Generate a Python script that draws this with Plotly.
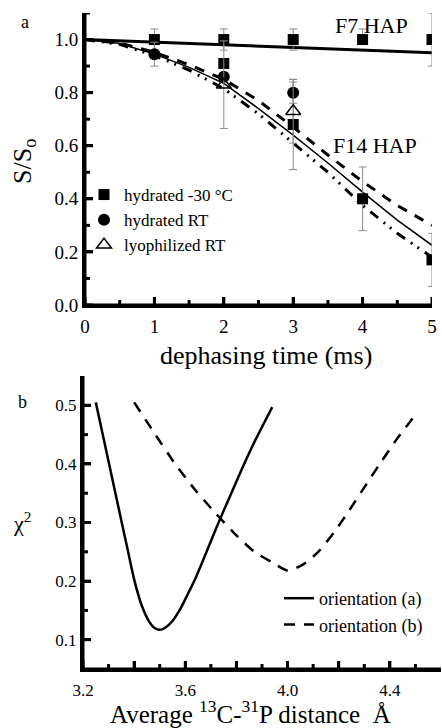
import plotly.graph_objects as go

# ---------------- Panel a data ----------------
time_ms = [1, 2, 3, 4, 5]
f7_vals = [1.0, 1.0, 1.0, 1.0, 1.0]
f7_err_plus = [0.04, 0.04, 0.04, 0.04, 0.10]
f7_err_minus = [0.04, 0.04, 0.04, 0.01, 0.10]

f14_time = [2, 3, 4, 5]
f14_vals = [0.91, 0.68, 0.40, 0.17]
f14_err = [0.0, 0.17, 0.12, 0.10]

rt_time = [1, 2, 3]
rt_vals = [0.945, 0.86, 0.80]
rt_err = [0.045, 0.0, 0.04]

lyo_time = [2, 3]
lyo_vals = [0.83, 0.73]
lyo_err = [0.165, 0.12]

fit_time = [0, 0.5, 1, 1.5, 2, 2.5, 3, 3.5, 4, 4.5, 5]
fit_solid = [1.0, 0.985, 0.945, 0.895, 0.835, 0.74, 0.64, 0.535, 0.425, 0.32, 0.225]
fit_dash = [1.0, 0.987, 0.952, 0.905, 0.85, 0.77, 0.67, 0.565, 0.465, 0.375, 0.30]
fit_dashdot = [1.0, 0.982, 0.94, 0.885, 0.815, 0.72, 0.61, 0.50, 0.375, 0.27, 0.18]
f7_fit_time = [0, 5]
f7_fit_vals = [1.0, 0.95]

a_xtick_major = [0, 1, 2, 3, 4, 5]
a_xtick_text = ["0", "1", "2", "3", "4", "5"]
a_xtick_minor = [0.5, 1.5, 2.5, 3.5, 4.5]
a_ytick_major = [0, 0.2, 0.4, 0.6, 0.8, 1.0]
a_ytick_text = ["0.0", "0.2", "0.4", "0.6", "0.8", "1.0"]
a_ytick_minor = [0.1, 0.3, 0.5, 0.7, 0.9, 1.1]

# ---------------- Panel b data ----------------
orient_a_x = [3.25, 3.30, 3.35, 3.375, 3.40, 3.43, 3.46, 3.48, 3.50, 3.52, 3.55,
              3.58, 3.61, 3.64, 3.67, 3.70, 3.74, 3.78, 3.82, 3.86, 3.90, 3.94]
orient_a_y = [0.505, 0.404, 0.303, 0.253, 0.203, 0.158, 0.13, 0.12, 0.117, 0.12, 0.132,
              0.152, 0.178, 0.205, 0.236, 0.268, 0.31, 0.35, 0.39, 0.428, 0.463, 0.497]
orient_b_x = [3.40, 3.48, 3.56, 3.64, 3.72, 3.80, 3.87, 3.94, 4.00, 4.06, 4.12,
              4.18, 4.24, 4.30, 4.37, 4.43, 4.50]
orient_b_y = [0.505, 0.452, 0.40, 0.355, 0.315, 0.278, 0.25, 0.232, 0.218, 0.228, 0.25,
              0.282, 0.32, 0.36, 0.406, 0.444, 0.484]

b_xtick_major = [3.2, 3.4, 3.6, 3.8, 4.0, 4.2, 4.4]
b_xtick_text = ["3.2", "", "3.6", "", "4.0", "", "4.4"]
b_xtick_minor = [3.3, 3.5, 3.7, 3.9, 4.1, 4.3, 4.5]
b_ytick_major = [0.1, 0.2, 0.3, 0.4, 0.5]
b_ytick_text = ["0.1", "0.2", "0.3", "0.4", "0.5"]
b_ytick_minor = [0.15, 0.25, 0.35, 0.45]

FONT = "Liberation Serif"
W, H = 442, 728
M = 1

fig = go.Figure()

fig.add_trace(go.Scatter(x=f7_fit_time, y=f7_fit_vals, mode="lines",
                         line=dict(color="black", width=3), showlegend=False,
                         xaxis="x", yaxis="y"))
fig.add_trace(go.Scatter(x=fit_time, y=fit_dash, mode="lines",
                         line=dict(color="black", width=3, dash="10px,9px"),
                         showlegend=False, xaxis="x", yaxis="y"))
fig.add_trace(go.Scatter(x=fit_time, y=fit_dashdot, mode="lines",
                         line=dict(color="black", width=3,
                                   dash="10px,7px,2px,6px,2px,7px"),
                         showlegend=False, xaxis="x", yaxis="y"))
fig.add_trace(go.Scatter(x=fit_time, y=fit_solid, mode="lines",
                         line=dict(color="black", width=1.5),
                         showlegend=False, xaxis="x", yaxis="y"))

errcol = "#8a8a8a"


def add_points(x, y, err_plus, err_minus, marker, name, show):
    fig.add_trace(go.Scatter(x=x, y=y, mode="markers", marker=marker, name=name,
                             error_y=dict(type="data", symmetric=False, array=err_plus,
                                          arrayminus=err_minus, color=errcol,
                                          thickness=1, width=4),
                             showlegend=show, legend="legend",
                             xaxis="x", yaxis="y"))


sq = dict(symbol="square", size=11, color="black")
add_points(time_ms, f7_vals, f7_err_plus, f7_err_minus, sq, "hydrated -30 °C", False)
add_points(f14_time, f14_vals, f14_err, f14_err, sq, "hydrated -30 °C", True)
add_points(rt_time, rt_vals, rt_err, rt_err,
           dict(symbol="circle", size=12, color="black"), "hydrated RT", True)
add_points(lyo_time, lyo_vals, lyo_err, lyo_err,
           dict(symbol="triangle-up-open", size=13, color="black",
                line=dict(width=1.5, color="black")), "lyophilized RT", True)

fig.add_trace(go.Scatter(x=orient_a_x, y=orient_a_y, mode="lines", name="orientation (a)",
                         line=dict(color="black", width=2.5, shape="spline", smoothing=0.6),
                         legend="legend2", xaxis="x2", yaxis="y2"))
fig.add_trace(go.Scatter(x=orient_b_x, y=orient_b_y, mode="lines", name="orientation (b)",
                         line=dict(color="black", width=2.5, dash="11px,9px",
                                   shape="spline", smoothing=0.6),
                         legend="legend2", xaxis="x2", yaxis="y2"))

axis_common = dict(showline=True, linecolor="black", linewidth=3, ticks="inside",
                   tickcolor="black", tickwidth=3, ticklen=8, showgrid=False,
                   zeroline=False)

pw, ph = W - 2 * M, H - 2 * M


def dx(px):
    return (px - M) / pw


def dy(py):
    return (H - M - py) / ph


A_X0, A_X1, A_Y0, A_Y1 = 85, 432, 305, 13
B_X0, B_X1, B_Y0, B_Y1 = 83, 441, 669, 376

fig.update_layout(
    template="none",
    width=W, height=H,
    margin=dict(l=M, r=M, t=M, b=M),
    font=dict(family=FONT, size=19, color="black"),
    xaxis=dict(axis_common, domain=[dx(A_X0), dx(A_X1)], range=[0, 5], anchor="y",
               tickmode="array", tickvals=a_xtick_major, ticktext=a_xtick_text,
               ticklabelstandoff=2),
    yaxis=dict(axis_common, domain=[dy(A_Y0), dy(A_Y1)], range=[0, 1.1], anchor="x",
               tickmode="array", tickvals=a_ytick_major, ticktext=a_ytick_text),
    xaxis2=dict(axis_common, domain=[dx(B_X0), dx(B_X1)], range=[3.2, 4.6], anchor="y2",
                tickmode="array", tickvals=b_xtick_major, ticktext=b_xtick_text,
                tickfont=dict(size=17), ticklabelstandoff=4),
    yaxis2=dict(axis_common, domain=[dy(B_Y0), dy(B_Y1)], range=[0.05, 0.55],
                anchor="x2", tickmode="array", tickvals=b_ytick_major,
                ticktext=b_ytick_text, tickfont=dict(size=17)),
    legend=dict(x=dx(84), y=dy(177), xanchor="left", yanchor="top",
                bgcolor="rgba(0,0,0,0)", font=dict(size=17), tracegroupgap=0),
    legend2=dict(x=dx(279), y=dy(580), xanchor="left", yanchor="top",
                 bgcolor="rgba(0,0,0,0)", font=dict(size=18), tracegroupgap=0),
    showlegend=True,
)

# axis frame and tick marks, positioned through each axis (domain units / tick values)
shapes = []
line_style = dict(color="black", width=3)


def add_axis_shapes(xa, ya, w_px, h_px, xmaj, xmin, ymaj, ymin):
    xd, yd = xa + " domain", ya + " domain"
    shapes.append(dict(type="line", xref=xd, yref=yd, x0=0, x1=1, y0=0, y1=0,
                       line=line_style, layer="above"))
    shapes.append(dict(type="line", xref=xd, yref=yd, x0=0, x1=0, y0=0, y1=1,
                       line=line_style, layer="above"))
    for vals, ln in ((xmaj, 8), (xmin, 5)):
        for v in vals:
            shapes.append(dict(type="line", xref=xa, yref=yd, x0=v, x1=v, y0=0,
                               y1=ln / h_px, line=line_style, layer="above"))
    for vals, ln in ((ymaj, 8), (ymin, 5)):
        for v in vals:
            shapes.append(dict(type="line", xref=xd, yref=ya, x0=0, x1=ln / w_px,
                               y0=v, y1=v, line=line_style, layer="above"))


add_axis_shapes("x", "y", A_X1 - A_X0, A_Y0 - A_Y1, a_xtick_major, a_xtick_minor,
                a_ytick_major, a_ytick_minor)
add_axis_shapes("x2", "y2", B_X1 - B_X0, B_Y0 - B_Y1, b_xtick_major, b_xtick_minor,
                b_ytick_major, b_ytick_minor)
fig.update_layout(shapes=shapes)

annotations = [
    dict(text="a", x=dx(25), y=dy(22), font=dict(size=18)),
    dict(text="b", x=dx(22), y=dy(402), font=dict(size=18)),
    dict(text="F7 HAP", x=dx(371), y=dy(25), font=dict(size=22)),
    dict(text="F14 HAP", x=dx(375), y=dy(145), font=dict(size=22)),
    dict(text="dephasing time (ms)", x=dx(266), y=dy(355), font=dict(size=26)),
    dict(text="S/S<sub>o</sub>", x=dx(24), y=dy(162), font=dict(size=26),
         textangle=-90),
    dict(text="χ<sup>2</sup>", x=dx(22), y=dy(522), font=dict(size=22)),
    dict(text="Average <sup>13</sup>C-<sup>31</sup>P distance  Å", x=dx(250),
         y=dy(712), font=dict(size=25)),
]
for a in annotations:
    a.update(xref="paper", yref="paper", showarrow=False, xanchor="center",
             yanchor="middle")
fig.update_layout(annotations=annotations)

fig.write_html("out.html", config={"displayModeBar": False},
               post_script="document.body.style.margin='0';"
                           "document.documentElement.style.overflow='hidden';")
